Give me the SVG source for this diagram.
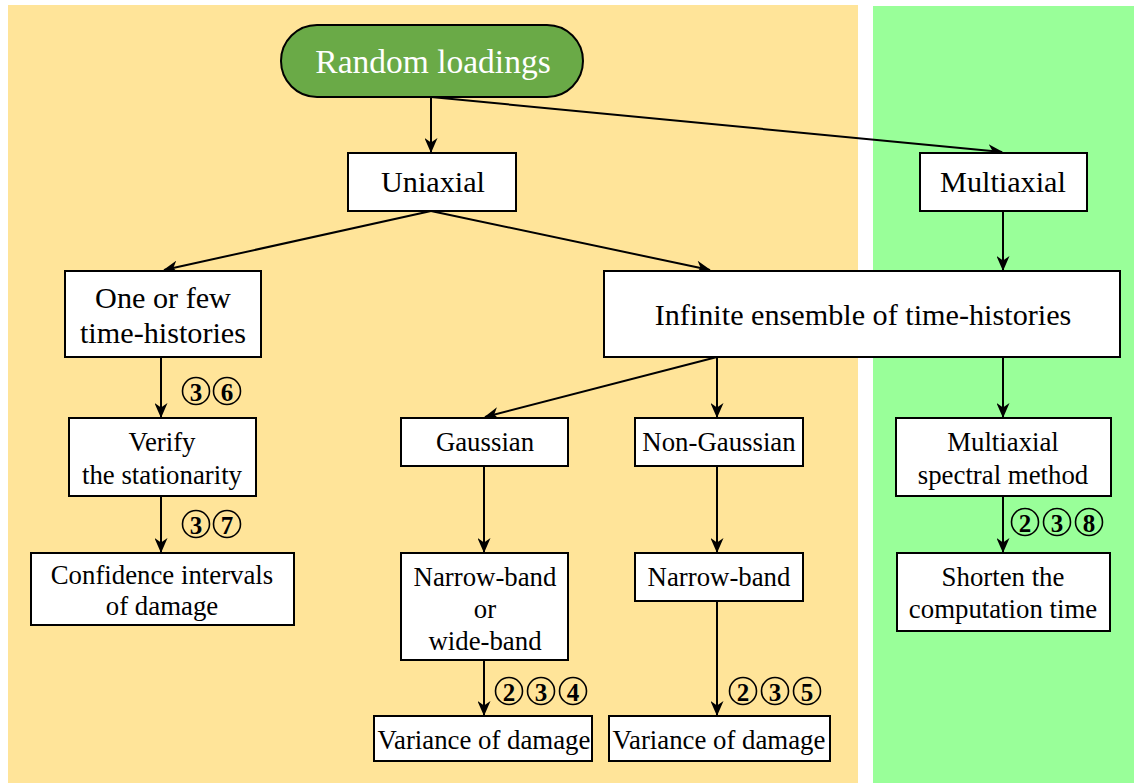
<svg xmlns="http://www.w3.org/2000/svg" width="1134" height="783" viewBox="0 0 1134 783">
<defs>
<style>
.box{fill:#fff;stroke:#000;stroke-width:2}
.t{font-family:'Liberation Serif','DejaVu Serif',serif;fill:#000;text-anchor:middle;dominant-baseline:central}
.big{font-size:30.2px}
.sm{font-size:26.8px}
.e{stroke:#000;stroke-width:2;fill:none;marker-end:url(#ah)}
.c{fill:none;stroke:#000;stroke-width:1.6}
.n{font-family:'Liberation Serif','DejaVu Serif',serif;font-weight:bold;font-size:25px;text-anchor:middle;dominant-baseline:central}
</style>
<marker id="ah" viewBox="0 0 15 13" refX="14" refY="6.5" markerWidth="15" markerHeight="13" markerUnits="userSpaceOnUse" orient="auto">
<path d="M0,0 L15,6.5 L0,13 L4.5,6.5 z" fill="#000"/>
</marker>
</defs>
<rect x="0" y="0" width="1134" height="783" fill="#fff"/>
<rect x="8" y="5" width="850" height="778" fill="#FFE499"/>
<rect x="873" y="6" width="261" height="777" fill="#99FF99"/>

<g id="connectors">
<line class="e" x1="431" y1="97" x2="431" y2="152"/>
<line class="e" x1="431" y1="97" x2="1002" y2="152"/>
<line class="e" x1="431" y1="211" x2="164" y2="270"/>
<line class="e" x1="431" y1="211" x2="710" y2="270"/>
<line class="e" x1="1003" y1="211" x2="1003" y2="270"/>
<line class="e" x1="161" y1="357" x2="161" y2="417"/>
<line class="e" x1="161" y1="496" x2="161" y2="552"/>
<line class="e" x1="717" y1="357" x2="485" y2="417"/>
<line class="e" x1="717" y1="357" x2="717" y2="417"/>
<line class="e" x1="1003" y1="357" x2="1003" y2="417"/>
<line class="e" x1="484" y1="466" x2="484" y2="552"/>
<line class="e" x1="717" y1="466" x2="717" y2="552"/>
<line class="e" x1="1003" y1="496" x2="1003" y2="552"/>
<line class="e" x1="484" y1="660" x2="484" y2="715"/>
<line class="e" x1="717" y1="601" x2="717" y2="715"/>
</g>

<g id="labels">
<circle class="c" cx="196" cy="391" r="13.5"/><text class="n" x="196" y="392">3</text>
<circle class="c" cx="227" cy="391" r="13.5"/><text class="n" x="227" y="392">6</text>
<circle class="c" cx="196" cy="524" r="13.5"/><text class="n" x="196" y="525">3</text>
<circle class="c" cx="227" cy="524" r="13.5"/><text class="n" x="227" y="525">7</text>
<circle class="c" cx="509" cy="691" r="13.5"/><text class="n" x="509" y="692">2</text>
<circle class="c" cx="541" cy="691" r="13.5"/><text class="n" x="541" y="692">3</text>
<circle class="c" cx="573" cy="691" r="13.5"/><text class="n" x="573" y="692">4</text>
<circle class="c" cx="743" cy="691" r="13.5"/><text class="n" x="743" y="692">2</text>
<circle class="c" cx="775" cy="691" r="13.5"/><text class="n" x="775" y="692">3</text>
<circle class="c" cx="807" cy="691" r="13.5"/><text class="n" x="807" y="692">5</text>
<circle class="c" cx="1025" cy="522" r="13.5"/><text class="n" x="1025" y="523">2</text>
<circle class="c" cx="1057" cy="522" r="13.5"/><text class="n" x="1057" y="523">3</text>
<circle class="c" cx="1089" cy="522" r="13.5"/><text class="n" x="1089" y="523">8</text>
</g>

<g id="random-loadings">
<rect x="281" y="25" width="302" height="72" rx="36" ry="36" fill="#6AAA47" stroke="#000" stroke-width="2"/>
<text class="t" x="433" y="61" font-size="33.5" style="fill:#fff">Random loadings</text>
</g>
<g id="uniaxial">
<rect class="box" x="348" y="153" width="168" height="58"/>
<text class="t big" x="433" y="182">Uniaxial</text>
</g>
<g id="multiaxial">
<rect class="box" x="920" y="153" width="167" height="58"/>
<text class="t big" x="1003" y="182">Multiaxial</text>
</g>
<g id="one-or-few">
<rect class="box" x="65" y="271" width="196" height="86"/>
<text class="t big" x="163" y="298">One or few</text>
<text class="t big" x="163" y="333">time-histories</text>
</g>
<g id="infinite">
<rect class="box" x="604" y="271" width="516" height="86"/>
<text class="t big" x="863" y="315">Infinite ensemble of time-histories</text>
</g>
<g id="verify">
<rect class="box" x="69" y="418" width="187" height="78"/>
<text class="t sm" x="162" y="442">Verify</text>
<text class="t sm" x="162" y="475">the stationarity</text>
</g>
<g id="gaussian">
<rect class="box" x="401" y="418" width="167" height="48"/>
<text class="t sm" x="485" y="442">Gaussian</text>
</g>
<g id="non-gaussian">
<rect class="box" x="635" y="418" width="168" height="48"/>
<text class="t sm" x="719" y="442">Non-Gaussian</text>
</g>
<g id="multiaxial-spectral">
<rect class="box" x="896" y="418" width="215" height="78"/>
<text class="t sm" x="1003" y="442">Multiaxial</text>
<text class="t sm" x="1003" y="475">spectral method</text>
</g>
<g id="confidence">
<rect class="box" x="31" y="553" width="263" height="72"/>
<text class="t sm" x="162" y="575">Confidence intervals</text>
<text class="t sm" x="162" y="606">of damage</text>
</g>
<g id="narrow-wide">
<rect class="box" x="401" y="553" width="167" height="107"/>
<text class="t sm" x="485" y="577">Narrow-band</text>
<text class="t sm" x="485" y="609">or</text>
<text class="t sm" x="485" y="641">wide-band</text>
</g>
<g id="narrow-band">
<rect class="box" x="635" y="553" width="168" height="48"/>
<text class="t sm" x="719" y="577">Narrow-band</text>
</g>
<g id="shorten">
<rect class="box" x="897" y="553" width="213" height="78"/>
<text class="t sm" x="1003" y="577">Shorten the</text>
<text class="t sm" x="1003" y="609">computation time</text>
</g>
<g id="variance-left">
<rect class="box" x="374" y="716" width="218" height="45"/>
<text class="t sm" x="484" y="740">Variance of damage</text>
</g>
<g id="variance-right">
<rect class="box" x="609" y="716" width="221" height="45"/>
<text class="t sm" x="719" y="740">Variance of damage</text>
</g>
</svg>
